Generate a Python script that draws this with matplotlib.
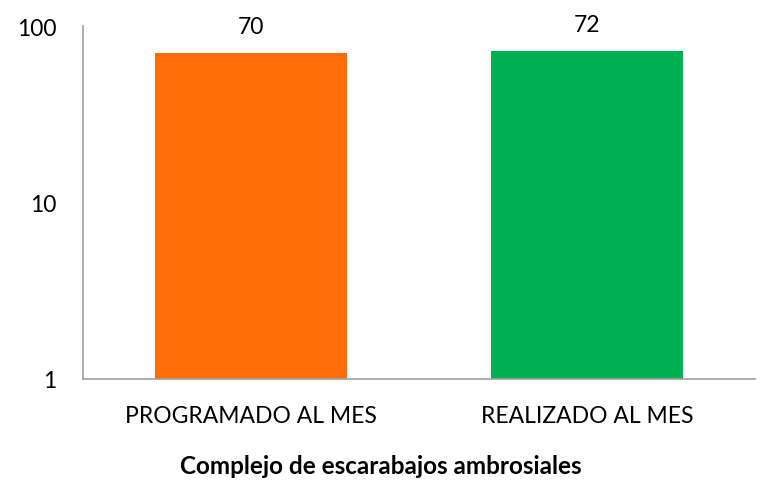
import matplotlib
matplotlib.use('Agg')
import matplotlib.pyplot as plt

categories = ['PROGRAMADO AL MES', 'REALIZADO AL MES']
values = [70, 72]
colors = ['#FF6D0A', '#00B050']
title = 'Complejo de escarabajos ambrosiales'

plt.rcParams['font.family'] = ['Lato', 'DejaVu Sans']

fig = plt.figure(figsize=(7.61, 4.81), dpi=100)
ax = fig.add_axes([83 / 761, 101 / 481, 672 / 761, 353 / 481])

x = range(len(categories))
bars = ax.bar(x, values, width=0.571, color=colors)
ax.set_yscale('log')
ax.set_ylim(1, 100)
ax.set_xlim(-0.5, 1.5)
ax.set_yticks([1, 10, 100])
ax.set_yticklabels(['1', '10', '100'])
ax.minorticks_off()
ax.set_xticks(list(x))
ax.set_xticklabels(categories)
ax.tick_params(axis='both', length=0, labelsize=16.5, colors='black')
ax.tick_params(axis='x', pad=19)
ax.tick_params(axis='y', pad=19)

for s in ['top', 'right']:
    ax.spines[s].set_visible(False)
for s in ['left', 'bottom']:
    ax.spines[s].set_color('#A0A0A0')
    ax.spines[s].set_linewidth(1.2)

for b, v in zip(bars, values):
    ax.annotate(str(v), (b.get_x() + b.get_width() / 2, v), xytext=(0, 12),
                textcoords='offset points', ha='center', va='bottom', fontsize=16.5)

# title is centred on the whole figure, not the axes
fig.text(0.5, 1 - 466 / 481, title, ha='center', va='center',
         fontsize=17.5, fontweight='bold')

fig.savefig('out.png', dpi=100)
